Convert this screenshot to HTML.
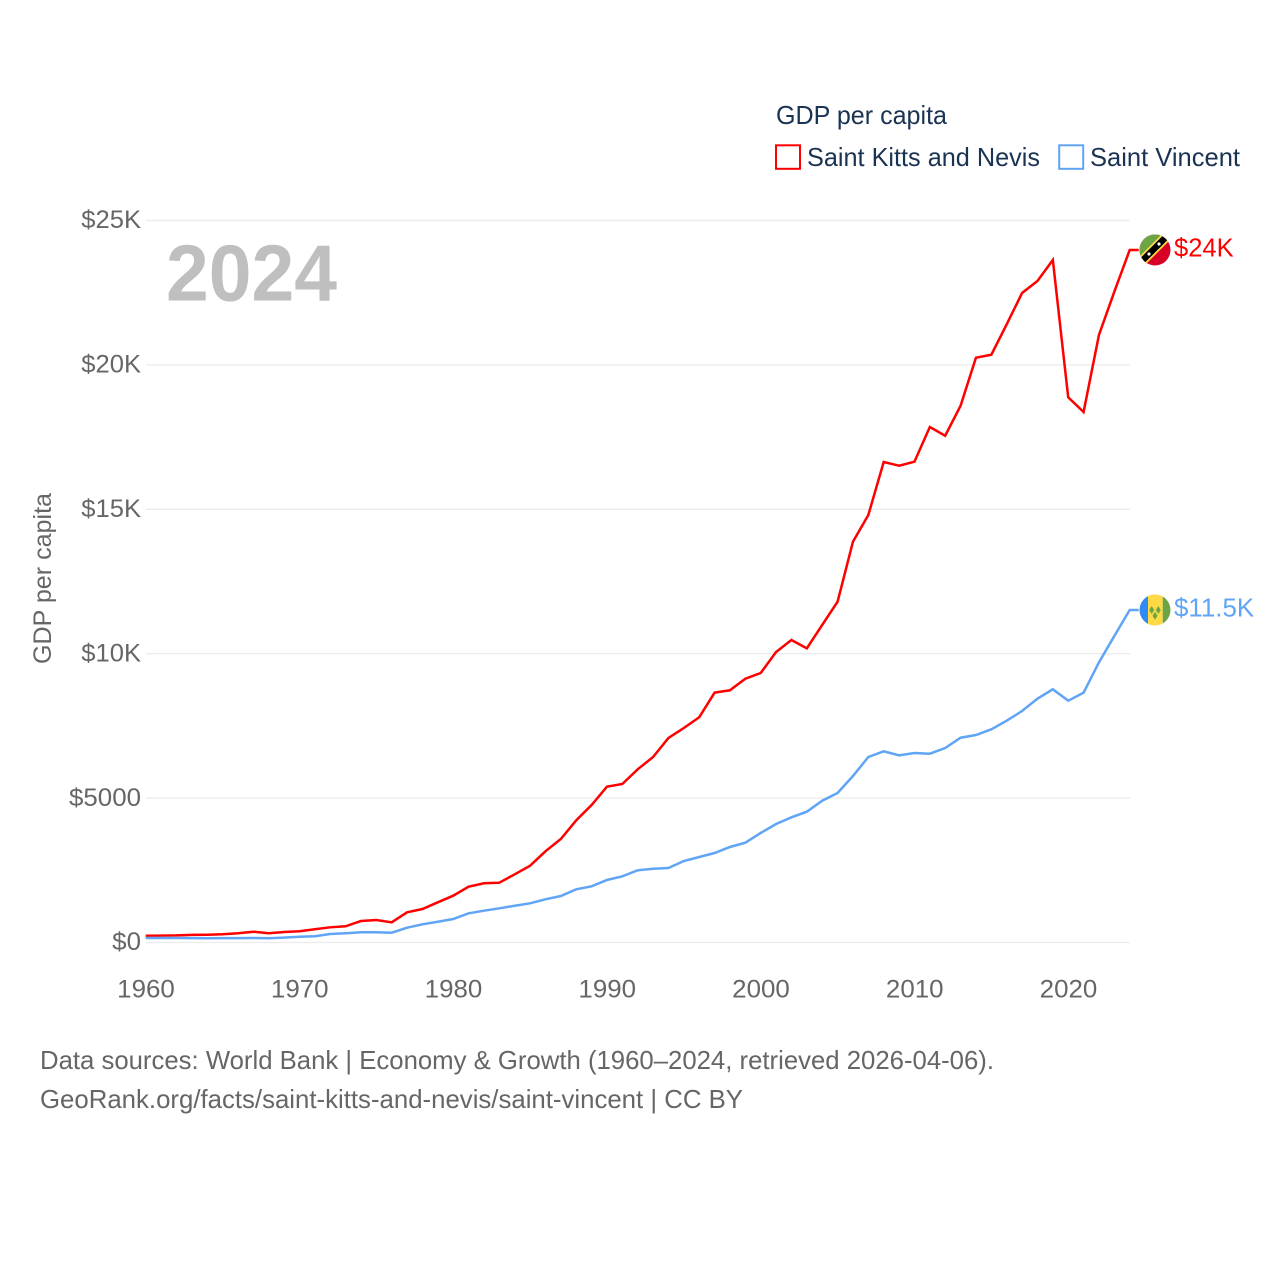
<!DOCTYPE html>
<html lang="en">
<head>
<meta charset="utf-8">
<title>GDP per capita: Saint Kitts and Nevis vs Saint Vincent</title>
<style>
  html, body { margin: 0; padding: 0; background: #fff; }
  svg { display: block; font-family: "Liberation Sans", sans-serif; }
</style>
</head>
<body>
<svg id="chart" xmlns="http://www.w3.org/2000/svg" width="1280" height="1280" viewBox="0 0 1280 1280">
  <rect width="1280" height="1280" fill="#fff"/>
  <defs>
    <clipPath id="flag-clip"><circle cx="0" cy="0" r="15.5"/></clipPath>
  </defs>
  <g id="grid"></g>
  <g id="y-ticks"></g>
  <g id="x-ticks"></g>
  <text x="166" y="300.5" font-size="80" font-weight="700" fill="#bfbfbf" textLength="171" lengthAdjust="spacingAndGlyphs">2024</text>
  <text transform="translate(51 664) rotate(-90)" font-size="25" fill="#666" textLength="171" lengthAdjust="spacingAndGlyphs">GDP per capita</text>

  <g>
    <text x="776" y="124" font-size="26" fill="#1a3352" textLength="171" lengthAdjust="spacingAndGlyphs">GDP per capita</text>
    <g>
      <rect x="776" y="145.3" width="24" height="23.5" fill="none" stroke="#ff0000" stroke-width="2"/>
      <text x="807" y="166" font-size="26" fill="#1a3352" textLength="233" lengthAdjust="spacingAndGlyphs">Saint Kitts and Nevis</text>
    </g>
    <g>
      <rect x="1059.2" y="145.3" width="24" height="23.5" fill="none" stroke="#60a5f5" stroke-width="2"/>
      <text x="1090" y="166" font-size="26" fill="#1a3352" textLength="150" lengthAdjust="spacingAndGlyphs">Saint Vincent</text>
    </g>
  </g>

  <polyline id="line-kitts" fill="none" stroke="#ff0000" stroke-width="2.5" stroke-linejoin="miter"/>
  <polyline id="line-vincent" fill="none" stroke="#60a5f5" stroke-width="2.5" stroke-linejoin="miter"/>

  <g id="flag-kitts">
    <g clip-path="url(#flag-clip)">
      <rect x="-16" y="-16" width="32" height="32" fill="#d80027"/>
      <polygon points="-20,-20 20,-20 -20,20" fill="#6da544"/>
      <polygon points="-20,11 11,-20 25,-20 -20,25" fill="#ffda44"/>
      <polygon points="-20,13.5 13.5,-20 22.5,-20 -20,22.5" fill="#000"/>
      <circle cx="-6" cy="4" r="1.6" fill="#fff"/>
      <circle cx="4" cy="-6" r="1.6" fill="#fff"/>
    </g>
  </g>
  <g id="flag-vincent">
    <g clip-path="url(#flag-clip)">
      <rect x="-16" y="-16" width="9" height="32" fill="#338af3"/>
      <rect x="-7" y="-16" width="14.7" height="32" fill="#ffda44"/>
      <rect x="7.7" y="-16" width="9" height="32" fill="#6da544"/>
      <polygon points="-5.8,0 -3.3,-4 -0.8,0 -3.3,4" fill="#6da544"/>
      <polygon points="0.8,0 3.3,-4 5.8,0 3.3,4" fill="#6da544"/>
      <polygon points="-2.5,5.7 0,1.7 2.5,5.7 0,9.7" fill="#6da544"/>
    </g>
  </g>
  <text id="label-kitts" x="1174" font-size="26" fill="#ff0000"></text>
  <text id="label-vincent" x="1174" font-size="26" fill="#60a5f5"></text>

  <g>
    <text x="40" y="1069" font-size="26" fill="#666" textLength="954" lengthAdjust="spacingAndGlyphs">Data sources: World Bank | Economy &amp; Growth (1960–2024, retrieved 2026-04-06).</text>
    <text x="40" y="1108" font-size="26" fill="#666" textLength="703" lengthAdjust="spacingAndGlyphs">GeoRank.org/facts/saint-kitts-and-nevis/saint-vincent | CC BY</text>
  </g>
</svg>
<script>
var firstYear = 1960;
var lastYear = 2024;
var kittsValues = [235,240,245,263,270,284,319,374,319,364,388,457,526,561,744,779,699,1046,1160,1392,1620,1932,2050,2071,2361,2659,3158,3584,4231,4761,5395,5488,5997,6423,7081,7427,7798,8650,8733,9134,9332,10059,10474,10187,10994,11801,13878,14803,16638,16510,16648,17850,17548,18587,20249,20353,21406,22490,22905,23632,18878,18369,21035,22535,23979];
var vincentValues = [156,156,156,153,146,150,153,156,145,170,201,215,294,319,353,353,339,512,630,720,814,1011,1101,1184,1274,1357,1496,1610,1842,1946,2164,2292,2500,2555,2580,2822,2961,3099,3307,3456,3792,4103,4335,4529,4910,5177,5765,6423,6621,6482,6562,6537,6735,7091,7185,7382,7680,8016,8442,8767,8373,8650,9702,10613,11513];
var yTickValues = [0,5000,10000,15000,20000,25000];
var yTickLabels = ['$0','$5000','$10K','$15K','$20K','$25K'];
var xTickYears = [1960,1970,1980,1990,2000,2010,2020];
var kittsEndLabel = '$24K';
var vincentEndLabel = '$11.5K';

var NS = 'http://www.w3.org/2000/svg';
function xScale(year) { return 145.7 + (year - firstYear) * (1129.7 - 145.7) / (lastYear - firstYear); }
function yScale(v) { return 942.5 - v * (942.5 - 220.5) / 25000; }
function labelWidth(s) {
  var w = 0;
  for (var i = 0; i < s.length; i++) {
    var c = s.charAt(i);
    w += c === 'K' ? 16.5 : (c === '.' ? 6 : 14.4);
  }
  return w;
}
function makeText(parent, str, x, y, size, fill) {
  var t = document.createElementNS(NS, 'text');
  t.setAttribute('x', x);
  t.setAttribute('y', y);
  t.setAttribute('font-size', size);
  t.setAttribute('fill', fill);
  t.setAttribute('textLength', labelWidth(str));
  t.setAttribute('lengthAdjust', 'spacingAndGlyphs');
  t.textContent = str;
  parent.appendChild(t);
  return t;
}

var gridG = document.getElementById('grid');
var yG = document.getElementById('y-ticks');
var xG = document.getElementById('x-ticks');

yTickValues.forEach(function (v, i) {
  var py = yScale(v);
  var ln = document.createElementNS(NS, 'line');
  
  
  ln.setAttribute('x1', 146);
  ln.setAttribute('x2', 1130);
  ln.setAttribute('y1', py);
  ln.setAttribute('y2', py);
  ln.setAttribute('stroke', '#ebebeb');
  ln.setAttribute('stroke-width', '1.3');
  gridG.appendChild(ln);
  var w = labelWidth(yTickLabels[i]);
  var t = makeText(yG, yTickLabels[i], 141 - w, py + 7.7, 25, '#666');
  
  
});

xTickYears.forEach(function (yr) {
  var str = String(yr);
  var w = labelWidth(str);
  var t = makeText(xG, str, xScale(yr) - w / 2 + 0.3, 997.3, 25, '#666');
  
  
});

function linePoints(values) {
  var pts = values.map(function (v, i) {
    return xScale(firstYear + i).toFixed(2) + ',' + yScale(v).toFixed(2);
  });
  pts.push((xScale(lastYear) + 9).toFixed(2) + ',' + yScale(values[values.length - 1]).toFixed(2));
  return pts.join(' ');
}
document.getElementById('line-kitts').setAttribute('points', linePoints(kittsValues));
document.getElementById('line-vincent').setAttribute('points', linePoints(vincentValues));

function placeEnd(flagId, labelId, values, str) {
  var py = yScale(values[values.length - 1]);
  document.getElementById(flagId).setAttribute('transform', 'translate(1155 ' + py.toFixed(2) + ')');
  var lab = document.getElementById(labelId);
  lab.setAttribute('y', (py + 6.3).toFixed(2));
  lab.setAttribute('textLength', labelWidth(str));
  lab.setAttribute('lengthAdjust', 'spacingAndGlyphs');
  lab.textContent = str;
}
placeEnd('flag-kitts', 'label-kitts', kittsValues, kittsEndLabel);
placeEnd('flag-vincent', 'label-vincent', vincentValues, vincentEndLabel);
</script>
</body>
</html>
